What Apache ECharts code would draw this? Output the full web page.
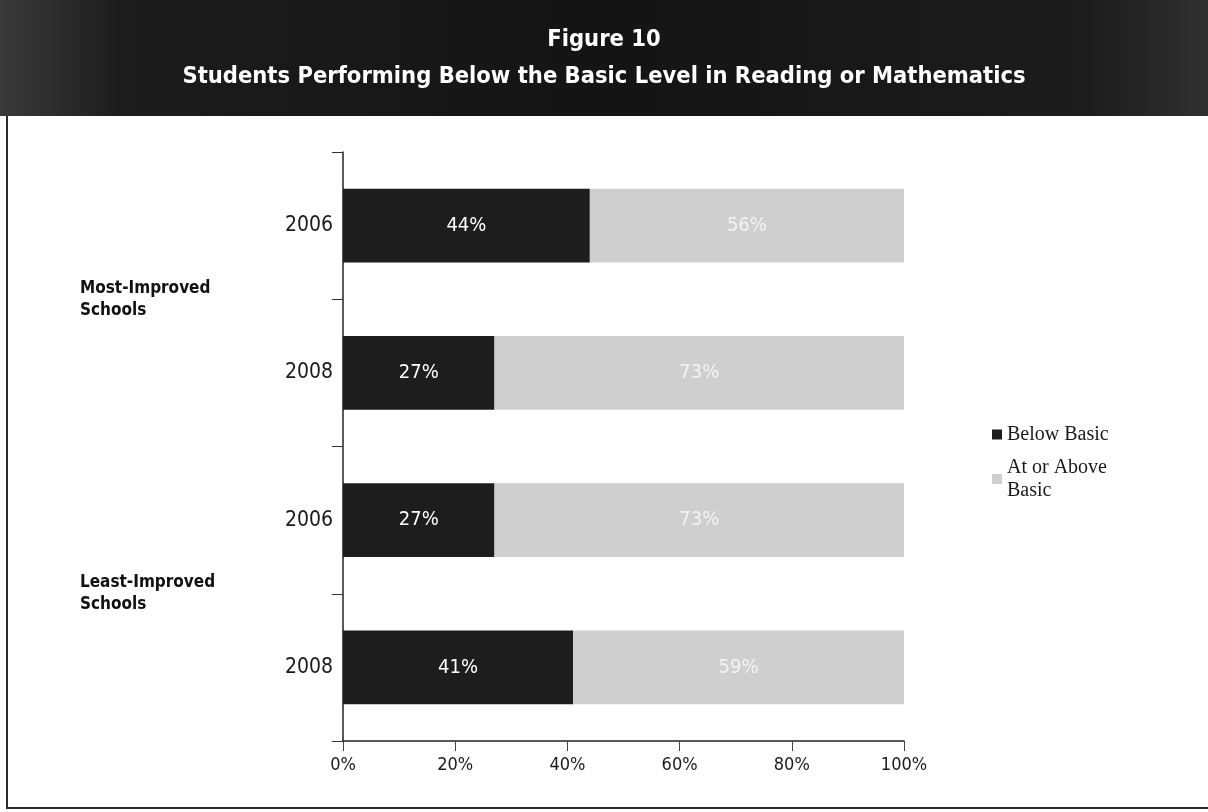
<!DOCTYPE html>
<html>
<head>
<meta charset="utf-8">
<title>Figure 10</title>
<script src="https://cdn.jsdelivr.net/npm/echarts@6/dist/echarts.min.js"></script>
<style>
  html, body { margin: 0; padding: 0; background: #ffffff; }
  #chart { width: 1208px; height: 812px; }
</style>
</head>
<body>
<div id="chart"></div>
<script>
// Chart data
const groups = ['Most-Improved\nSchools', 'Least-Improved\nSchools'];
const years = ['2006', '2008', '2006', '2008'];
const belowBasic = [44, 27, 27, 41];
const atOrAboveBasic = [56, 73, 73, 59];
const xTicks = [0, 20, 40, 60, 80, 100];

// One category per bar row (group index + year), shown as the year only
const rows = years.map((y, i) => Math.floor(i / 2) + '|' + y);

const NARROW = '"DejaVu Sans Condensed", "Liberation Sans Narrow", "Arial Narrow", sans-serif';
const SERIF = '"Liberation Serif", "DejaVu Serif", serif';

const chart = echarts.init(document.getElementById('chart'), null, { renderer: 'canvas' });

chart.setOption({
  backgroundColor: '#ffffff',
  animation: false,
  title: {
    text: 'Figure 10\nStudents Performing Below the Basic Level in Reading or Mathematics',
    left: 'center',
    top: 16,
    z: 10,
    textStyle: {
      color: '#ffffff',
      fontFamily: NARROW,
      fontWeight: 'bold',
      fontSize: 23.5,
      lineHeight: 37
    }
  },
  graphic: [
    {
      type: 'rect',
      z: 0,
      shape: { x: 0, y: 0, width: 1208, height: 116 },
      style: {
        fill: new echarts.graphic.LinearGradient(0, 0, 1, 0, [
          { offset: 0, color: '#3a3a3a' },
          { offset: 0.1, color: '#1c1c1c' },
          { offset: 0.5, color: '#141414' },
          { offset: 0.9, color: '#1c1c1c' },
          { offset: 1, color: '#303030' }
        ])
      }
    },
    {
      type: 'polyline',
      z: 0,
      shape: { points: [[7, 116], [7, 808], [1208, 808]] },
      style: { stroke: '#2a2a2a', lineWidth: 2, fill: null }
    }
  ],
  legend: {
    orient: 'vertical',
    left: 987,
    top: 418,
    itemWidth: 10,
    itemHeight: 10,
    itemGap: 10,
    icon: 'rect',
    data: ['Below Basic', 'At or Above Basic'],
    formatter: name => name === 'At or Above Basic' ? 'At or Above\nBasic' : name,
    textStyle: {
      fontFamily: SERIF,
      fontSize: 20,
      color: '#1a1a1a',
      lineHeight: 23
    }
  },
  grid: {
    left: 343,
    right: 304,
    top: 152,
    bottom: 71,
    containLabel: false
  },
  xAxis: {
    type: 'value',
    min: 0,
    max: 100,
    interval: 20,
    splitLine: { show: false },
    axisLine: { show: true, lineStyle: { color: '#222', width: 1.5 } },
    axisTick: { show: true, length: 10, lineStyle: { color: '#444' } },
    axisLabel: {
      margin: 15,
      fontFamily: NARROW,
      fontSize: 18,
      color: '#1a1a1a',
      formatter: v => xTicks.includes(v) ? v + '%' : ''
    }
  },
  yAxis: [
    {
      type: 'category',
      inverse: true,
      data: rows,
      axisLine: { show: true, lineStyle: { color: '#222', width: 1.5 } },
      axisTick: { show: true, length: 11, lineStyle: { color: '#333' } },
      axisLabel: {
        margin: 10,
        fontFamily: NARROW,
        fontSize: 21,
        color: '#1a1a1a',
        formatter: v => v.split('|')[1]
      }
    },
    {
      type: 'category',
      inverse: true,
      position: 'left',
      data: groups,
      axisLine: { show: false },
      axisTick: { show: false },
      axisLabel: {
        margin: 263,
        align: 'left',
        fontFamily: NARROW,
        fontWeight: 'bold',
        fontSize: 17,
        lineHeight: 22,
        color: '#111'
      }
    }
  ],
  series: [
    {
      name: 'Below Basic',
      type: 'bar',
      stack: 'total',
      yAxisIndex: 0,
      barWidth: '50%',
      data: belowBasic,
      itemStyle: { color: '#1d1d1d' },
      label: {
        show: true,
        position: 'inside',
        formatter: '{c}%',
        fontFamily: NARROW,
        fontSize: 20,
        color: '#ffffff'
      }
    },
    {
      name: 'At or Above Basic',
      type: 'bar',
      stack: 'total',
      yAxisIndex: 0,
      barWidth: '50%',
      data: atOrAboveBasic,
      itemStyle: { color: '#cfcfcf' },
      label: {
        show: true,
        position: 'inside',
        formatter: '{c}%',
        fontFamily: NARROW,
        fontSize: 20,
        color: 'rgba(255,255,255,0.75)'
      }
    }
  ]
});
</script>
</body>
</html>
